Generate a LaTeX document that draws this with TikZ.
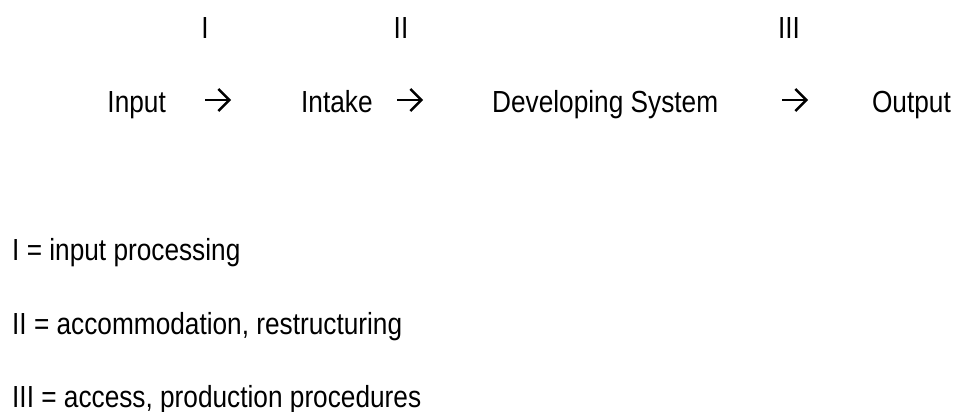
\documentclass[tikz,border=0pt]{standalone}
\usepackage{fontspec}
\setmainfont{Liberation Sans}[FakeStretch=0.86]
\usetikzlibrary{arrows.meta}
\tikzset{
  lbl/.style={inner sep=0pt, font=\fontsize{30.5}{36}\selectfont, text=black},
  arr/.style={line width=2.4pt, -{Straight Barb[length=11pt,width=22pt,line width=2.4pt]}, line cap=butt},
}
\begin{document}
\begin{tikzpicture}[x=1pt,y=-1pt]
\useasboundingbox[fill=white] (0,0) rectangle (959,412);
% roman numerals
\node[lbl, anchor=base] (r1) at (205,39) {I};
\node[lbl, anchor=base] (r2) at (401,39) {II};
\node[lbl, anchor=base] (r3) at (789,39) {III};
% main row
\node[lbl, anchor=base east] (input) at (166,112) {Input};
\node[lbl, anchor=base west] (intake) at (301,112) {Intake};
\node[lbl, anchor=base west] (dev) at (492,112) {Developing System};
\node[lbl, anchor=base east] (out) at (951,112) {Output};
% arrows
\coordinate (a1s) at (205,100); \coordinate (a1e) at (231,100);
\coordinate (a2s) at (397,100); \coordinate (a2e) at (423,100);
\coordinate (a3s) at (782,100); \coordinate (a3e) at (808,100);
\draw[arr] (a1s) -- (a1e);
\draw[arr] (a2s) -- (a2e);
\draw[arr] (a3s) -- (a3e);
% legend
\node[lbl, anchor=base west] (l1) at (12,260) {I = input processing};
\node[lbl, anchor=base west] (l2) at (12,334) {II = accommodation, restructuring};
\node[lbl, anchor=base west] (l3) at (12,407) {III = access, production procedures};
\end{tikzpicture}
\end{document}
